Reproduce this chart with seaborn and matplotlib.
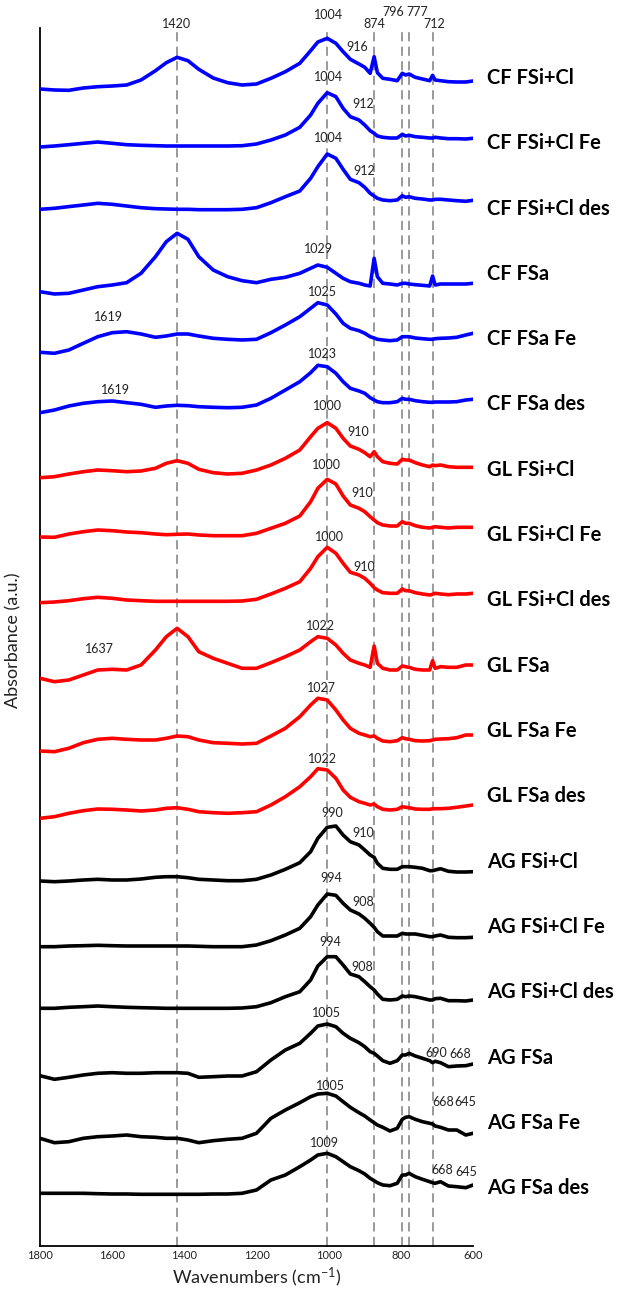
import numpy as np
import pandas as pd
import matplotlib
matplotlib.use("Agg")
import matplotlib.pyplot as plt
import seaborn as sns

# ---------------- data ----------------
wavenumbers = [1800, 1760, 1720, 1680, 1640, 1600, 1560, 1520, 1480, 1450,
               1420, 1390, 1360, 1320, 1280, 1240, 1200, 1160, 1120, 1080,
               1050, 1030, 1004, 980, 960, 940, 916, 900, 885, 874,
               865, 850, 830, 810, 796, 787, 777, 760, 740, 720,
               712, 705, 690, 668, 645, 620, 600]

sample_names = ["CF FSi+Cl", "CF FSi+Cl Fe", "CF FSi+Cl des",
                "CF FSa", "CF FSa Fe", "CF FSa des",
                "GL FSi+Cl", "GL FSi+Cl Fe", "GL FSi+Cl des",
                "GL FSa", "GL FSa Fe", "GL FSa des",
                "AG FSi+Cl", "AG FSi+Cl Fe", "AG FSi+Cl des",
                "AG FSa", "AG FSa Fe", "AG FSa des"]

# absorbance (a.u., relative) of each spectrum
cf_fsicl = [-0.110, -0.120, -0.123, -0.100, -0.087, -0.080, -0.070, -0.020, 0.073, 0.153,
            0.207, 0.173, 0.087, 0.000, -0.047, -0.070, -0.060, -0.003, 0.063, 0.147,
            0.273, 0.360, 0.397, 0.347, 0.263, 0.187, 0.140, 0.107, 0.047, 0.213,
            0.053, -0.003, -0.013, -0.027, 0.047, 0.030, 0.040, 0.007, -0.010, -0.027,
            0.027, -0.020, -0.027, -0.037, -0.040, -0.040, -0.030]
cf_fsicl_fe = [-0.037, -0.027, -0.014, 0.000, 0.013, 0.000, -0.014, -0.020, -0.024, -0.027,
               -0.027, -0.027, -0.027, -0.027, -0.027, -0.024, -0.007, 0.033, 0.083, 0.160,
               0.283, 0.400, 0.506, 0.466, 0.350, 0.266, 0.233, 0.183, 0.126, 0.100,
               0.073, 0.060, 0.053, 0.053, 0.090, 0.073, 0.080, 0.066, 0.060, 0.053,
               0.053, 0.060, 0.053, 0.046, 0.046, 0.043, 0.050]
cf_fsicl_des = [-0.007, 0.003, 0.020, 0.036, 0.053, 0.043, 0.026, 0.009, -0.001, -0.004,
                -0.007, -0.007, -0.011, -0.011, -0.011, -0.007, 0.009, 0.059, 0.119, 0.176,
                0.303, 0.419, 0.546, 0.503, 0.393, 0.293, 0.259, 0.213, 0.153, 0.126,
                0.103, 0.086, 0.079, 0.086, 0.129, 0.113, 0.119, 0.103, 0.096, 0.086,
                0.086, 0.093, 0.093, 0.086, 0.079, 0.073, 0.083]
cf_fsa = [-0.178, -0.201, -0.194, -0.161, -0.128, -0.111, -0.088, 0.006, 0.172, 0.322,
          0.406, 0.346, 0.172, 0.039, -0.028, -0.068, -0.088, -0.054, -0.034, 0.006,
          0.056, 0.089, 0.066, 0.006, -0.044, -0.078, -0.094, -0.111, -0.121, 0.156,
          -0.028, -0.094, -0.101, -0.111, -0.094, -0.094, -0.101, -0.108, -0.114, -0.121,
          -0.021, -0.111, -0.101, -0.101, -0.101, -0.101, -0.094]
cf_fsa_fe = [-0.131, -0.141, -0.108, -0.041, 0.025, 0.065, 0.075, 0.052, 0.019, 0.032,
             0.052, 0.052, 0.032, 0.009, -0.001, -0.008, -0.001, 0.065, 0.142, 0.225,
             0.309, 0.365, 0.342, 0.252, 0.159, 0.109, 0.085, 0.059, 0.025, 0.012,
             -0.001, -0.008, -0.015, -0.008, 0.025, 0.025, 0.025, 0.012, 0.005, -0.001,
             -0.001, 0.005, 0.009, 0.012, 0.019, 0.042, 0.059]
cf_fsa_des = [-0.082, -0.055, -0.015, 0.012, 0.028, 0.035, 0.018, 0.002, -0.028, -0.015,
              -0.008, -0.012, -0.022, -0.028, -0.032, -0.028, -0.005, 0.062, 0.145, 0.228,
              0.318, 0.392, 0.378, 0.312, 0.228, 0.162, 0.135, 0.112, 0.068, 0.045,
              0.028, 0.018, 0.018, 0.028, 0.062, 0.052, 0.052, 0.038, 0.028, 0.022,
              0.022, 0.025, 0.025, 0.025, 0.028, 0.045, 0.052]
gl_fsicl = [-0.079, -0.069, -0.042, -0.019, -0.002, -0.009, -0.019, -0.012, 0.015, 0.065,
            0.091, 0.065, 0.005, -0.029, -0.042, -0.035, -0.002, 0.048, 0.115, 0.198,
            0.331, 0.415, 0.471, 0.415, 0.315, 0.238, 0.205, 0.171, 0.131, 0.181,
            0.131, 0.081, 0.065, 0.058, 0.105, 0.098, 0.098, 0.071, 0.048, 0.031,
            0.048, 0.041, 0.048, 0.031, 0.025, 0.025, 0.025]
gl_fsicl_fe = [-0.019, -0.022, 0.011, 0.034, 0.051, 0.044, 0.031, 0.024, 0.011, 0.004,
               0.008, 0.011, 0.001, -0.006, -0.006, -0.006, 0.018, 0.068, 0.118, 0.191,
               0.334, 0.468, 0.558, 0.511, 0.391, 0.301, 0.268, 0.234, 0.184, 0.151,
               0.124, 0.101, 0.091, 0.091, 0.134, 0.118, 0.118, 0.094, 0.078, 0.071,
               0.078, 0.084, 0.078, 0.071, 0.078, 0.078, 0.078]
gl_fsicl_des = [-0.023, -0.016, -0.003, 0.017, 0.031, 0.021, 0.004, -0.003, -0.009, -0.009,
                -0.009, -0.009, -0.009, -0.009, -0.009, -0.006, 0.011, 0.064, 0.121, 0.187,
                0.321, 0.437, 0.531, 0.471, 0.371, 0.281, 0.254, 0.221, 0.171, 0.127,
                0.104, 0.077, 0.071, 0.071, 0.114, 0.097, 0.097, 0.077, 0.064, 0.054,
                0.061, 0.071, 0.064, 0.057, 0.064, 0.064, 0.071]
gl_fsa = [-0.126, -0.160, -0.143, -0.093, -0.043, -0.036, -0.043, 0.007, 0.157, 0.290,
          0.374, 0.290, 0.140, 0.074, 0.024, -0.026, -0.026, 0.030, 0.090, 0.157,
          0.240, 0.290, 0.274, 0.207, 0.124, 0.057, 0.024, 0.007, -0.016, 0.197,
          0.024, -0.026, -0.043, -0.043, -0.003, -0.010, -0.016, -0.036, -0.043, -0.043,
          0.050, -0.026, -0.010, -0.016, -0.016, 0.007, 0.007]
gl_fsa_fe = [-0.200, -0.207, -0.173, -0.117, -0.083, -0.073, -0.083, -0.090, -0.090, -0.073,
             -0.050, -0.057, -0.090, -0.117, -0.123, -0.130, -0.123, -0.050, 0.027, 0.143,
             0.260, 0.327, 0.310, 0.210, 0.110, 0.027, -0.023, -0.040, -0.057, -0.050,
             -0.073, -0.100, -0.107, -0.097, -0.067, -0.077, -0.083, -0.097, -0.100, -0.097,
             -0.090, -0.083, -0.080, -0.077, -0.067, -0.040, -0.040]
gl_fsa_des = [-0.220, -0.204, -0.170, -0.144, -0.127, -0.130, -0.137, -0.147, -0.137, -0.120,
              -0.114, -0.130, -0.154, -0.164, -0.170, -0.164, -0.154, -0.087, -0.004, 0.096,
              0.196, 0.276, 0.263, 0.180, 0.063, -0.010, -0.054, -0.070, -0.087, -0.077,
              -0.104, -0.130, -0.137, -0.130, -0.104, -0.110, -0.114, -0.127, -0.130, -0.130,
              -0.124, -0.124, -0.124, -0.120, -0.110, -0.097, -0.087]
ag_fsicl = [-0.194, -0.201, -0.194, -0.184, -0.177, -0.184, -0.184, -0.174, -0.157, -0.151,
            -0.151, -0.161, -0.177, -0.184, -0.191, -0.191, -0.177, -0.134, -0.077, -0.011,
            0.099, 0.233, 0.343, 0.356, 0.266, 0.199, 0.166, 0.116, 0.066, 0.043,
            -0.017, -0.067, -0.077, -0.077, -0.051, -0.051, -0.051, -0.057, -0.067, -0.091,
            -0.091, -0.084, -0.071, -0.097, -0.104, -0.104, -0.101]
ag_fsicl_fe = [-0.198, -0.198, -0.191, -0.188, -0.184, -0.188, -0.191, -0.191, -0.191, -0.191,
               -0.191, -0.191, -0.194, -0.198, -0.198, -0.198, -0.181, -0.138, -0.081, -0.014,
               0.102, 0.219, 0.329, 0.316, 0.236, 0.169, 0.129, 0.086, 0.036, -0.004,
               -0.048, -0.091, -0.091, -0.091, -0.064, -0.071, -0.071, -0.071, -0.084, -0.098,
               -0.098, -0.091, -0.081, -0.104, -0.108, -0.108, -0.104]
ag_fsicl_des = [-0.161, -0.161, -0.151, -0.145, -0.138, -0.145, -0.151, -0.155, -0.158, -0.161,
                -0.161, -0.161, -0.161, -0.161, -0.161, -0.158, -0.145, -0.105, -0.045, 0.005,
                0.122, 0.262, 0.355, 0.355, 0.272, 0.182, 0.155, 0.105, 0.055, 0.022,
                -0.018, -0.071, -0.078, -0.071, -0.038, -0.045, -0.038, -0.045, -0.061, -0.078,
                -0.078, -0.065, -0.061, -0.085, -0.085, -0.088, -0.078]
ag_fsa = [-0.182, -0.218, -0.198, -0.175, -0.158, -0.152, -0.158, -0.158, -0.152, -0.152,
          -0.152, -0.158, -0.198, -0.192, -0.185, -0.185, -0.142, -0.025, 0.075, 0.142,
          0.242, 0.315, 0.335, 0.308, 0.242, 0.192, 0.148, 0.108, 0.058, 0.042,
          0.015, -0.032, -0.058, -0.032, 0.025, 0.025, 0.042, 0.015, -0.008, -0.032,
          -0.052, -0.038, -0.052, -0.092, -0.085, -0.082, -0.065]
ag_fsa_fe = [-0.155, -0.199, -0.189, -0.155, -0.139, -0.132, -0.122, -0.139, -0.145, -0.155,
             -0.155, -0.172, -0.199, -0.179, -0.165, -0.155, -0.105, 0.045, 0.128, 0.201,
             0.261, 0.288, 0.295, 0.268, 0.211, 0.155, 0.101, 0.068, 0.028, 0.001,
             -0.022, -0.045, -0.082, -0.055, 0.035, 0.055, 0.061, 0.035, 0.011, -0.005,
             -0.012, -0.032, -0.045, -0.072, -0.072, -0.122, -0.105]
ag_fsa_des = [-0.052, -0.052, -0.052, -0.052, -0.056, -0.059, -0.059, -0.062, -0.062, -0.062,
              -0.062, -0.062, -0.062, -0.059, -0.059, -0.052, -0.019, 0.081, 0.131, 0.214,
              0.281, 0.331, 0.348, 0.314, 0.264, 0.214, 0.174, 0.141, 0.098, 0.074,
              0.054, 0.031, 0.024, 0.048, 0.131, 0.131, 0.148, 0.114, 0.088, 0.064,
              0.054, 0.048, 0.064, 0.021, 0.014, 0.004, 0.031]

spectra = [cf_fsicl, cf_fsicl_fe, cf_fsicl_des, cf_fsa, cf_fsa_fe, cf_fsa_des,
           gl_fsicl, gl_fsicl_fe, gl_fsicl_des, gl_fsa, gl_fsa_fe, gl_fsa_des,
           ag_fsicl, ag_fsicl_fe, ag_fsicl_des, ag_fsa, ag_fsa_fe, ag_fsa_des]

marker_lines = [1420, 1004, 874, 796, 777, 712]

# peak annotations: (text, wavenumber position, absorbance position)
peak_labels = [
    ("1420", 1423, 12.22), ("1004", 999, 12.31), ("874", 874, 12.22),
    ("796", 822, 12.34), ("777", 754, 12.34), ("712", 708, 12.22),
    ("916", 921, 11.99), ("1004", 999, 11.69), ("912", 905, 11.42),
    ("1004", 1000, 11.08), ("912", 901, 10.75), ("1029", 1027, 9.97),
    ("1619", 1609, 9.29), ("1025", 1018, 9.54), ("1023", 1018, 8.92),
    ("1619", 1592, 8.56), ("1000", 1003, 8.40), ("910", 919, 8.14),
    ("1000", 1007, 7.81), ("910", 906, 7.53), ("1000", 998, 7.09),
    ("910", 901, 6.79), ("1637", 1634, 5.97), ("1022", 1024, 6.20),
    ("1027", 1021, 5.58), ("1022", 1018, 4.87), ("990", 989, 4.33),
    ("910", 904, 4.13), ("994", 993, 3.68), ("908", 904, 3.44),
    ("994", 996, 3.04), ("908", 906, 2.79), ("1005", 1005, 2.33),
    ("690", 702, 1.93), ("668", 636, 1.92), ("1005", 994, 1.60),
    ("668", 682, 1.44), ("645", 622, 1.44), ("1009", 1013, 1.03),
    ("668", 684, 0.76), ("645", 619, 0.74),
]

x_ticks = [1800, 1600, 1400, 1200, 1000, 800, 600]

# ---------------- style ----------------
sns.set_theme(style="white")
plt.rcParams["font.family"] = ["Lato", "DejaVu Sans"]
plt.rcParams["mathtext.fontset"] = "custom"
plt.rcParams["mathtext.rm"] = "Lato"
plt.rcParams["mathtext.it"] = "Lato:italic"
plt.rcParams["mathtext.bf"] = "Lato:bold"
plt.rcParams["lines.solid_joinstyle"] = "round"
plt.rcParams["lines.solid_capstyle"] = "round"

W, H = 622, 1293
fig = plt.figure(figsize=(W / 100, H / 100), dpi=100)
ax_left, ax_right, ax_top, ax_bottom = 40, 473, 28, 1246
ax = fig.add_axes([ax_left / W, 1 - ax_bottom / H, (ax_right - ax_left) / W,
                   (ax_bottom - ax_top) / H])

colors = ["#0000FF"] * 6 + ["#FF0000"] * 6 + ["#000000"] * 6
base, step = 11.68, 0.653

for x in marker_lines:
    ax.axvline(x, color="#7f7f7f", lw=1.1, ls=(0, (6, 3.5)), zorder=1)

rows = []
for k, (name, vals) in enumerate(zip(sample_names, spectra)):
    off = base - step * k
    for wn, v in zip(wavenumbers, vals):
        rows.append({"sample": name, "wn": wn, "y": v + off})
df = pd.DataFrame(rows)

sns.lineplot(data=df, x="wn", y="y", hue="sample", hue_order=sample_names,
             palette=dict(zip(sample_names, colors)), lw=2.6, legend=False,
             estimator=None, sort=True, ax=ax, zorder=3)
for line in ax.get_lines():
    line.set_solid_joinstyle("round")
    line.set_solid_capstyle("round")

for k, name in enumerate(sample_names):
    ax.text(561, base - step * k, name, ha="left", va="center", fontsize=14.5,
            fontweight="bold", color="black", clip_on=False)

for txt, xw, yv in peak_labels:
    ax.text(xw, yv, txt, ha="center", va="center", fontsize=9,
            color="#222222", clip_on=False, zorder=4)

ax.set_xlim(1800, 600)
ax.set_ylim(0, (ax_bottom - ax_top) / 100)
ax.set_xticks(x_ticks)
ax.set_xticklabels([str(t) for t in x_ticks])
ax.tick_params(axis="x", length=0, pad=3, labelsize=8, labelcolor="#222222")
ax.set_yticks([])
ax.set_xlabel("")
ax.set_ylabel("")
for s in ["top", "right"]:
    ax.spines[s].set_visible(False)
for s in ["left", "bottom"]:
    ax.spines[s].set_color("black")
    ax.spines[s].set_linewidth(1.3)

fig.text(257 / W, 1 - 1277 / H, r"Wavenumbers (cm$^{\mathregular{-1}}$)",
         ha="center", va="center", fontsize=13, color="#222222")
fig.text(13 / W, 1 - 640 / H, "Absorbance (a.u.)", ha="center", va="center",
         rotation=90, fontsize=13, color="#222222")

fig.savefig("out.png", dpi=100)
